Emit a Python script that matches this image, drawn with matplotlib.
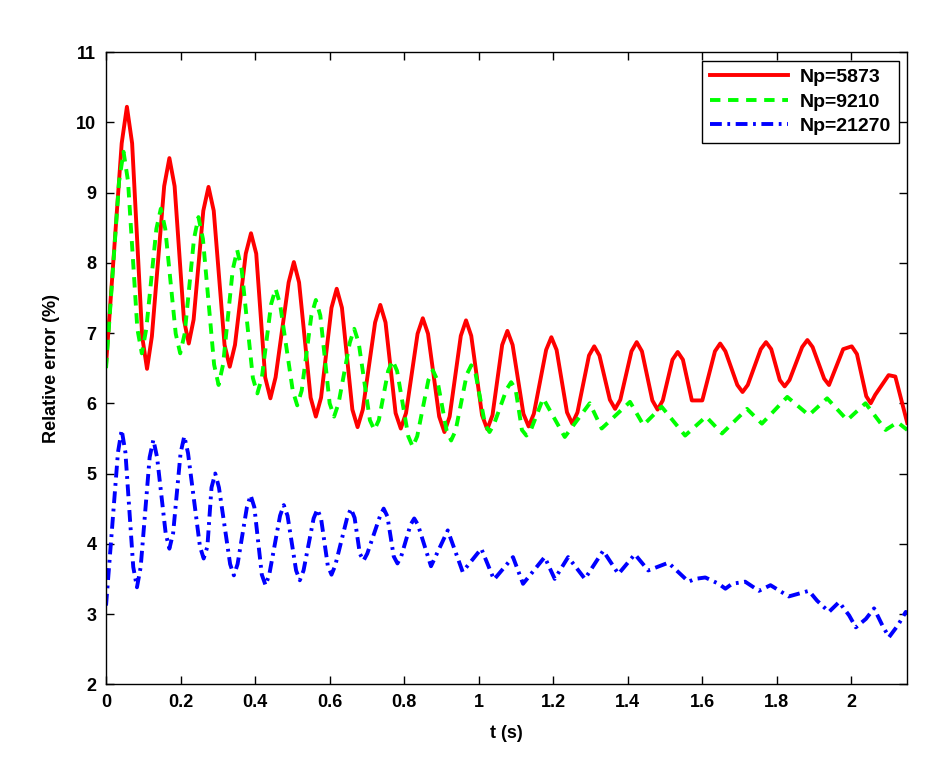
import matplotlib
matplotlib.use("Agg")
import matplotlib.pyplot as plt

plt.rcParams["font.family"] = ["Liberation Sans", "DejaVu Sans"]
plt.rcParams["lines.scale_dashes"] = False

# values (extrema of each curve plus points near them)
t_5873 = [0.000, 0.042, 0.056, 0.070, 0.097, 0.110, 0.123, 0.156, 0.170, 0.184,
          0.209, 0.222, 0.235, 0.261, 0.275, 0.289, 0.318, 0.332, 0.346, 0.375,
          0.389, 0.403, 0.427, 0.441, 0.455, 0.490, 0.504, 0.518, 0.549, 0.563,
          0.577, 0.605, 0.619, 0.633, 0.661, 0.675, 0.689, 0.722, 0.736, 0.750,
          0.777, 0.791, 0.805, 0.836, 0.850, 0.864, 0.894, 0.908, 0.922, 0.952,
          0.966, 0.980, 1.009, 1.023, 1.037, 1.063, 1.077, 1.091, 1.120, 1.134,
          1.148, 1.181, 1.195, 1.209, 1.237, 1.251, 1.265, 1.296, 1.310, 1.324,
          1.352, 1.366, 1.380, 1.410, 1.424, 1.438, 1.466, 1.480, 1.494, 1.520,
          1.534, 1.548, 1.572, 1.600, 1.634, 1.648, 1.662, 1.694, 1.708, 1.722,
          1.757, 1.771, 1.785, 1.808, 1.821, 1.834, 1.868, 1.882, 1.896, 1.927,
          1.940, 1.978, 2.001, 2.015, 2.040, 2.052, 2.064, 2.100, 2.118, 2.150]
e_5873 = [6.55, 9.70, 10.22, 9.70, 6.95, 6.49, 6.95, 9.09, 9.49, 9.09,
          7.19, 6.85, 7.19, 8.74, 9.08, 8.74, 6.83, 6.52, 6.83, 8.13,
          8.42, 8.13, 6.37, 6.07, 6.37, 7.72, 8.01, 7.72, 6.08, 5.81,
          6.08, 7.36, 7.63, 7.36, 5.91, 5.66, 5.91, 7.15, 7.40, 7.15,
          5.86, 5.64, 5.86, 6.99, 7.21, 6.99, 5.81, 5.59, 5.81, 6.96,
          7.18, 6.96, 5.83, 5.63, 5.83, 6.83, 7.03, 6.83, 5.85, 5.67,
          5.85, 6.76, 6.94, 6.76, 5.87, 5.71, 5.87, 6.68, 6.81, 6.68,
          6.05, 5.92, 6.05, 6.74, 6.87, 6.74, 6.04, 5.91, 6.04, 6.62,
          6.73, 6.62, 6.04, 6.04, 6.74, 6.85, 6.74, 6.26, 6.16, 6.26,
          6.77, 6.87, 6.77, 6.33, 6.24, 6.33, 6.80, 6.90, 6.80, 6.35,
          6.26, 6.77, 6.81, 6.70, 6.10, 6.00, 6.12, 6.40, 6.38, 5.72]

t_9210 = [0.000, 0.035, 0.047, 0.059, 0.084, 0.096, 0.108, 0.135, 0.147, 0.159,
          0.187, 0.199, 0.211, 0.236, 0.248, 0.260, 0.290, 0.302, 0.314, 0.340,
          0.352, 0.364, 0.394, 0.406, 0.418, 0.443, 0.455, 0.467, 0.501, 0.513,
          0.525, 0.551, 0.563, 0.575, 0.600, 0.612, 0.624, 0.654, 0.666, 0.678,
          0.708, 0.720, 0.732, 0.757, 0.769, 0.781, 0.811, 0.823, 0.835, 0.865,
          0.877, 0.889, 0.914, 0.926, 0.938, 0.968, 0.980, 0.992, 1.017, 1.029,
          1.041, 1.075, 1.087, 1.099, 1.116, 1.128, 1.140, 1.173, 1.231, 1.298,
          1.330, 1.406, 1.442, 1.491, 1.554, 1.610, 1.653, 1.720, 1.760, 1.828,
          1.886, 1.935, 1.989, 2.038, 2.092, 2.124, 2.150]
e_9210 = [6.50, 9.16, 9.58, 9.16, 7.06, 6.71, 7.06, 8.48, 8.77, 8.48,
          6.99, 6.71, 6.99, 8.34, 8.65, 8.34, 6.55, 6.26, 6.55, 7.90,
          8.18, 7.90, 6.36, 6.14, 6.36, 7.41, 7.63, 7.41, 6.18, 5.97,
          6.18, 7.25, 7.47, 7.25, 6.00, 5.81, 6.00, 6.86, 7.06, 6.86,
          5.76, 5.62, 5.76, 6.46, 6.61, 6.46, 5.53, 5.38, 5.53, 6.33,
          6.47, 6.33, 5.61, 5.47, 5.61, 6.41, 6.54, 6.41, 5.70, 5.59,
          5.70, 6.20, 6.30, 6.20, 5.62, 5.54, 5.62, 6.07, 5.52, 6.00,
          5.64, 6.02, 5.69, 5.95, 5.54, 5.81, 5.57, 5.92, 5.71, 6.09,
          5.83, 6.07, 5.76, 6.00, 5.62, 5.73, 5.62]

t_21270 = [0.000, 0.032, 0.042, 0.052, 0.073, 0.083, 0.093, 0.117, 0.127, 0.137,
           0.160, 0.170, 0.180, 0.200, 0.210, 0.220, 0.252, 0.262, 0.272, 0.283,
           0.293, 0.303, 0.333, 0.343, 0.353, 0.378, 0.388, 0.398, 0.418, 0.428,
           0.438, 0.467, 0.477, 0.487, 0.510, 0.520, 0.530, 0.557, 0.567, 0.577,
           0.595, 0.605, 0.615, 0.647, 0.657, 0.667, 0.681, 0.691, 0.701, 0.735,
           0.745, 0.755, 0.772, 0.782, 0.792, 0.817, 0.827, 0.837, 0.872, 0.917,
           0.957, 1.007, 1.041, 1.092, 1.119, 1.177, 1.204, 1.240, 1.285, 1.334,
           1.375, 1.419, 1.455, 1.509, 1.563, 1.581, 1.608, 1.644, 1.662, 1.680,
           1.715, 1.752, 1.783, 1.832, 1.886, 1.908, 1.940, 1.967, 1.994, 2.012,
           2.039, 2.061, 2.083, 2.101, 2.125, 2.146, 2.150]
e_21270 = [3.12, 5.30, 5.62, 5.30, 3.67, 3.38, 3.67, 5.23, 5.48, 5.23,
           4.15, 3.93, 4.15, 5.29, 5.53, 5.29, 3.96, 3.79, 3.96, 4.80,
           5.00, 4.80, 3.71, 3.55, 3.71, 4.52, 4.69, 4.52, 3.56, 3.41,
           3.56, 4.40, 4.55, 4.40, 3.62, 3.48, 3.62, 4.36, 4.49, 4.36,
           3.69, 3.56, 3.69, 4.37, 4.50, 4.37, 3.86, 3.76, 3.86, 4.39,
           4.50, 4.39, 3.82, 3.72, 3.82, 4.27, 4.36, 4.27, 3.68, 4.19,
           3.60, 3.93, 3.49, 3.81, 3.43, 3.81, 3.50, 3.81, 3.50, 3.90,
           3.57, 3.85, 3.62, 3.73, 3.46, 3.50, 3.52, 3.43, 3.36, 3.43,
           3.46, 3.33, 3.41, 3.25, 3.33, 3.19, 3.03, 3.17, 2.98, 2.81,
           2.93, 3.08, 2.84, 2.67, 2.84, 3.03, 3.00]

x_ticks = [0, 0.2, 0.4, 0.6, 0.8, 1.0, 1.2, 1.4, 1.6, 1.8, 2.0]
x_labels = ["0", "0.2", "0.4", "0.6", "0.8", "1", "1.2", "1.4", "1.6", "1.8", "2"]
y_ticks = list(range(2, 12))

fig = plt.figure(figsize=(9.51, 7.82), dpi=100)
fig.patch.set_facecolor("white")
ax = fig.add_axes([0.1115, 0.125, 0.8425, 0.8085])

lw = 2.8
ax.plot(t_5873, e_5873, color="#ff0000", lw=lw, ls="-", label="Np=5873")
ax.plot(t_9210, e_9210, color="#00ff00", lw=lw, ls=(0, (7.5, 5.5)), label="Np=9210")
ax.plot(t_21270, e_21270, color="#0000ff", lw=lw, ls=(0, (8.5, 4.0, 2.0, 4.0)),
        label="Np=21270")

ax.set_xlim(0, 2.15)
ax.set_ylim(2, 11)
ax.set_xticks(x_ticks)
ax.set_xticklabels(x_labels)
ax.set_yticks(y_ticks)
ax.tick_params(direction="in", top=True, right=True, length=6, width=1,
               labelsize=13, pad=7)
for lab in ax.get_xticklabels() + ax.get_yticklabels():
    lab.set_fontweight("bold")
for sp in ax.spines.values():
    sp.set_linewidth(1.0)

ax.set_xlabel("t (s)", fontsize=13, fontweight="bold", labelpad=10)
ax.set_ylabel("Relative error (%)", fontsize=13, fontweight="bold", labelpad=12)

leg = ax.legend(loc="upper right", prop={"weight": "bold", "size": 14},
                fancybox=False, edgecolor="black", framealpha=1.0,
                handlelength=4.0, borderaxespad=0.45, labelspacing=0.35,
                borderpad=0.4, handletextpad=0.6)
leg.get_frame().set_linewidth(1.0)

fig.savefig("out.png", dpi=100, facecolor="white")
